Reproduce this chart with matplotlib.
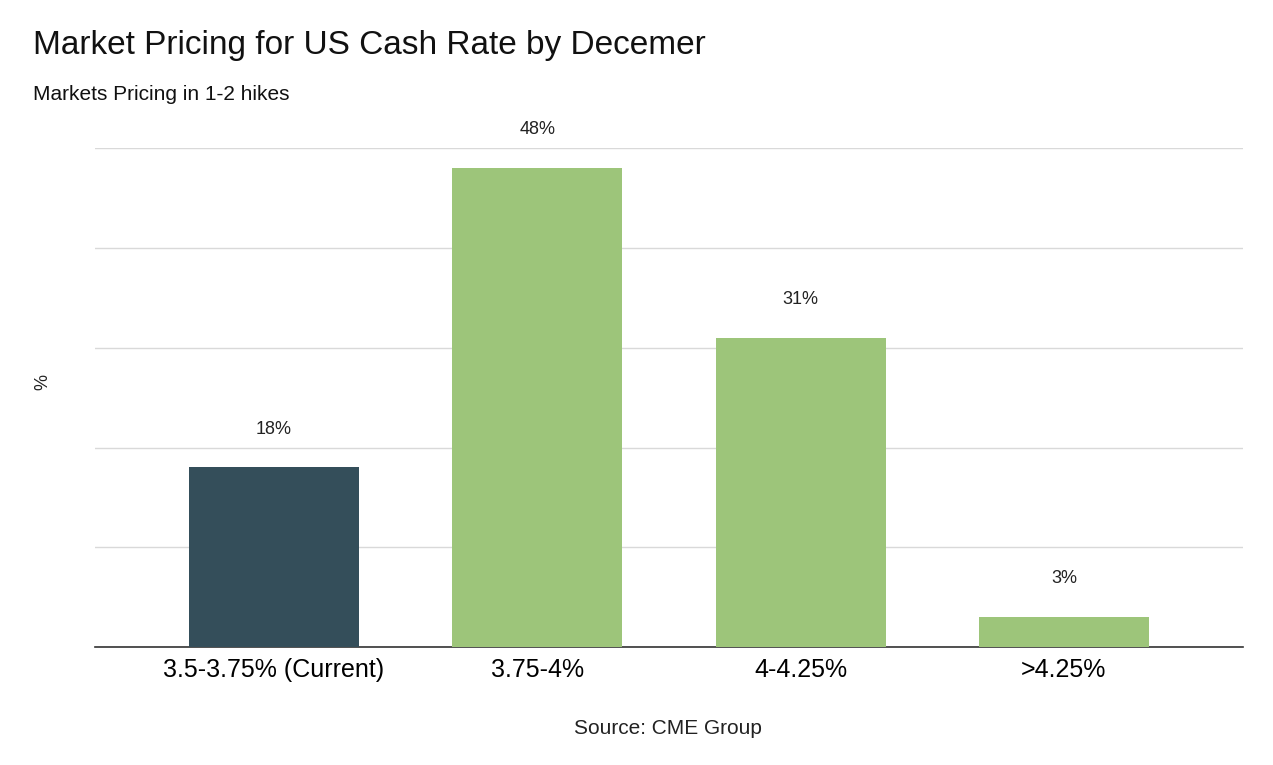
import matplotlib
matplotlib.use("Agg")
import matplotlib.pyplot as plt

categories = ["3.5-3.75% (Current)", "3.75-4%", "4-4.25%", ">4.25%"]
values = [18, 48, 31, 3]
labels = ["18%", "48%", "31%", "3%"]
colors = ["#344e5a", "#9dc57a", "#9dc57a", "#9dc57a"]

plt.rcParams['font.family'] = ['Liberation Sans', 'DejaVu Sans']
fig = plt.figure(figsize=(12.73, 7.65), dpi=100)
ax = fig.add_axes([0.0746, 0.154, 0.9018, 0.6525])
x = range(len(categories))
ax.bar(x, values, width=0.646, color=colors, zorder=3)
for i, (v, l) in enumerate(zip(values, labels)):
    ax.text(i, v + 3, l, ha="center", va="bottom", fontsize=13, color="#222222")
ax.set_xlim(-0.68, 3.68)
ax.set_ylim(0, 50)
ax.set_yticks([0, 10, 20, 30, 40, 50])
ax.set_yticklabels([])
ax.tick_params(axis="y", length=0)
ax.tick_params(axis="x", length=0, labelsize=18, pad=8)
ax.set_xticks(list(x))
ax.set_xticklabels(categories)
ax.grid(axis="y", color="#d9d9d9", linewidth=1, zorder=0)
for s in ["top", "right", "left"]:
    ax.spines[s].set_visible(False)
ax.spines["bottom"].set_color("#333333")
ax.spines["bottom"].set_linewidth(1.2)
fig.text(0.0338, 0.5, "%", rotation=90, ha="center", va="center", fontsize=13, color="#222222")
fig.text(0.026, 0.94, "Market Pricing for US Cash Rate by Decemer", fontsize=24, color="#111111", va="center")
fig.text(0.026, 0.876, "Markets Pricing in 1-2 hikes", fontsize=15, color="#111111", va="center")
fig.text(0.525, 0.048, "Source: CME Group", fontsize=15, color="#222222", ha="center", va="center")
fig.savefig("out.png", dpi=100, facecolor="white")
